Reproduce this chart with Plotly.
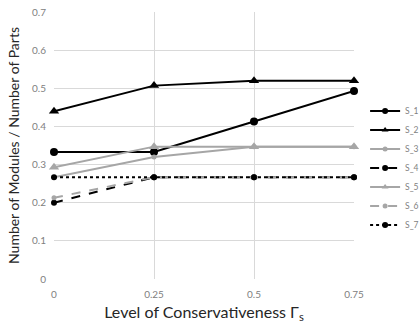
import plotly.graph_objects as go

x_vals = [0, 0.25, 0.5, 0.75]
x_ticks = ["0", "0.25", "0.5", "0.75"]
y_ticks = [0, 0.1, 0.2, 0.3, 0.4, 0.5, 0.6, 0.7]
y_ticktext = ["0", "0.1", "0.2", "0.3", "0.4", "0.5", "0.6", "0.7"]

s1 = [0.333, 0.333, 0.413, 0.493]
s2 = [0.44, 0.507, 0.52, 0.52]
s3 = [0.267, 0.32, 0.347, 0.347]
s4 = [0.2, 0.267, 0.267, 0.267]
s5 = [0.293, 0.347, 0.347, 0.347]
s6 = [0.213, 0.267, 0.267, 0.267]
s7 = [0.267, 0.267, 0.267, 0.267]

BLACK = "#000000"
GRAY = "#a6a6a6"

series = [
    ("S_1", s1, BLACK, "solid", "circle", 8, 6),
    ("S_2", s2, BLACK, "solid", "triangle-up", 9, 6),
    ("S_3", s3, GRAY, "solid", "circle", 5, 5),
    ("S_4", s4, BLACK, "dash", "circle", 6, 6),
    ("S_5", s5, GRAY, "solid", "triangle-up", 9, 6),
    ("S_6", s6, GRAY, "dash", "circle", 5, 5),
    ("S_7", s7, BLACK, "dot", "circle", 6, 6),
]

fig = go.Figure()
for name, vals, color, dash, sym, size, lsize in series:
    fig.add_trace(go.Scatter(
        x=x_vals, y=vals, name=name, mode="lines+markers",
        line=dict(color=color, width=2, dash=dash),
        marker=dict(color=color, symbol=sym, size=size),
        cliponaxis=False, showlegend=False, legendgroup=name,
    ))
# legend entries with smaller symbols
for name, vals, color, dash, sym, size, lsize in series:
    fig.add_trace(go.Scatter(
        x=[None], y=[None], name=name, mode="lines+markers",
        line=dict(color=color, width=2, dash=dash),
        marker=dict(color=color, symbol=sym, size=lsize),
        showlegend=True, legendgroup=name,
    ))

FONT = "Lato"
fig.update_layout(
    template="none",
    width=420, height=326,
    margin=dict(l=54, r=66, t=12, b=47, autoexpand=False),
    paper_bgcolor="white", plot_bgcolor="white",
    font=dict(family=FONT, color="#595959"),
    showlegend=True,
    legend=dict(
        x=1.037, xanchor="left", y=0.416, yanchor="middle",
        font=dict(size=8.5, color="#7f7f7f"),
        itemwidth=30, tracegroupgap=0,
        bgcolor="rgba(0,0,0,0)", borderwidth=0,
    ),
    xaxis=dict(
        range=[0, 0.75], tickvals=x_vals, ticktext=x_ticks,
        showgrid=True, gridcolor="#d9d9d9", gridwidth=1,
        zeroline=False, showline=False, automargin=False,
        tickfont=dict(size=10, color="#808080"),
        title=dict(text="Level of Conservativeness Γ<sub>s</sub>",
                   font=dict(size=16, color="#262626"), standoff=7),
        ticks="outside", ticklen=6, tickcolor="rgba(0,0,0,0)",
    ),
    yaxis=dict(
        range=[0, 0.7], tickvals=y_ticks, ticktext=y_ticktext,
        showgrid=True, gridcolor="#d9d9d9", gridwidth=1,
        zeroline=False, showline=False, automargin=False,
        tickfont=dict(size=10, color="#808080"),
        title=dict(text="Number of Modules / Number of Parts",
                   font=dict(size=14, color="#262626"), standoff=9),
        ticks="outside", ticklen=5, tickcolor="rgba(0,0,0,0)",
    ),
)

fig.write_html("out.html", config={"displayModeBar": False},
               post_script="document.body.style.margin='0px';")
